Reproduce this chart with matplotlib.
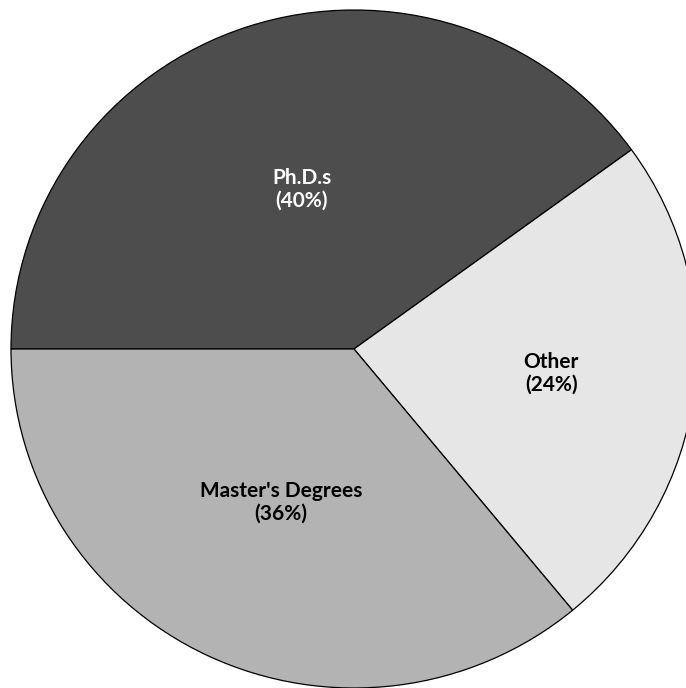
import matplotlib
matplotlib.use("Agg")
import matplotlib.pyplot as plt
import numpy as np

# degree breakdown
categories = ["Ph.D.s", "Other", "Master's Degrees"]
shares = [40, 24, 36]
colors = ["#4d4d4d", "#e6e6e6", "#b3b3b3"]
text_colors = ["white", "black", "black"]
label_dist = [0.495, 0.58, 0.50]

plt.rcParams['font.family'] = ['Lato', 'DejaVu Sans']

fig = plt.figure(figsize=(6.86, 6.88), dpi=100)
ax = fig.add_axes([0, 0, 1, 1])

# the pie is a touch wider than tall
r = 343
squash = 339 / 343
cx, cy = 354, 339 / squash
labels = ["{}\n({}%)".format(c, s) for c, s in zip(categories, shares)]
wedges, texts = ax.pie(shares, labels=labels, colors=colors,
                       startangle=180, counterclock=False,
                       radius=r, center=(cx, cy),
                       wedgeprops=dict(edgecolor="black", linewidth=0.9),
                       textprops=dict(fontsize=15, fontweight="bold"))
for w, t, tc, d in zip(wedges, texts, text_colors, label_dist):
    mid = np.deg2rad((w.theta1 + w.theta2) / 2)
    t.set_position((cx + d * r * np.cos(mid), cy + d * r * np.sin(mid)))
    t.set_ha("center")
    t.set_va("center")
    t.set_multialignment("center")
    t.set_linespacing(1.15)
    t.set_color(tc)

ax.set_xlim(0, 686)
ax.set_ylim(0, 688 / squash)
ax.set_aspect("auto")
ax.axis("off")

plt.savefig("out.png", dpi=100)
